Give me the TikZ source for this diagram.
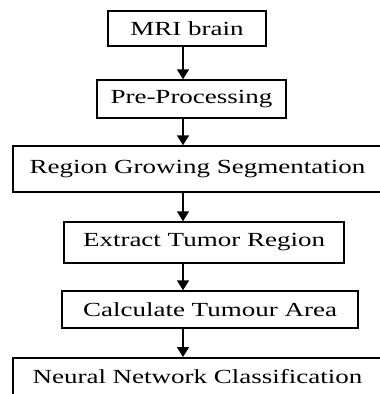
\documentclass[tikz,border=0pt]{standalone}
\usepackage{fontspec}
\setmainfont{Liberation Serif}[FakeStretch=1.35]
\usetikzlibrary{positioning,arrows.meta}

\begin{document}
\begin{tikzpicture}[x=1pt, y=-1pt,
    box/.style={draw, line width=1.5pt, inner sep=0pt,
        font=\fontsize{20}{24}\selectfont},
    >={Triangle[length=10pt,width=12pt]}]
    \useasboundingbox (0,0) rectangle (380,394);
    \coordinate (spine) at (183,0);

    \node[box, minimum width=158pt, minimum height=35pt] (mri) at (187,28.5) {MRI brain\hspace{14pt}};
    \node[box, minimum width=189pt, minimum height=38pt] (pre) at (191.5,99) {Pre-Processing\hspace{10pt}};
    \node[box, minimum width=369pt, minimum height=46pt] (seg) at (197.5,169) {Region Growing Segmentation};
    \node[box, minimum width=280pt, minimum height=41pt] (ext) at (204,242.5) {Extract Tumor Region\hspace{7pt}};
    \node[box, minimum width=296pt, minimum height=37pt] (area) at (210,309.5) {Calculate Tumour Area\hspace{10pt}};
    \node[box, minimum width=369pt, minimum height=38pt, anchor=north] (nn) at (197.5,357) {Neural Network Classification\hspace{13pt}};

    \path[->, line width=1.8pt]
        (mri.south -| spine) edge (pre.north -| spine)
        (pre.south -| spine) edge (seg.north -| spine)
        (seg.south -| spine) edge (ext.north -| spine)
        (ext.south -| spine) edge (area.north -| spine)
        (area.south -| spine) edge (nn.north -| spine);
\end{tikzpicture}
\end{document}
